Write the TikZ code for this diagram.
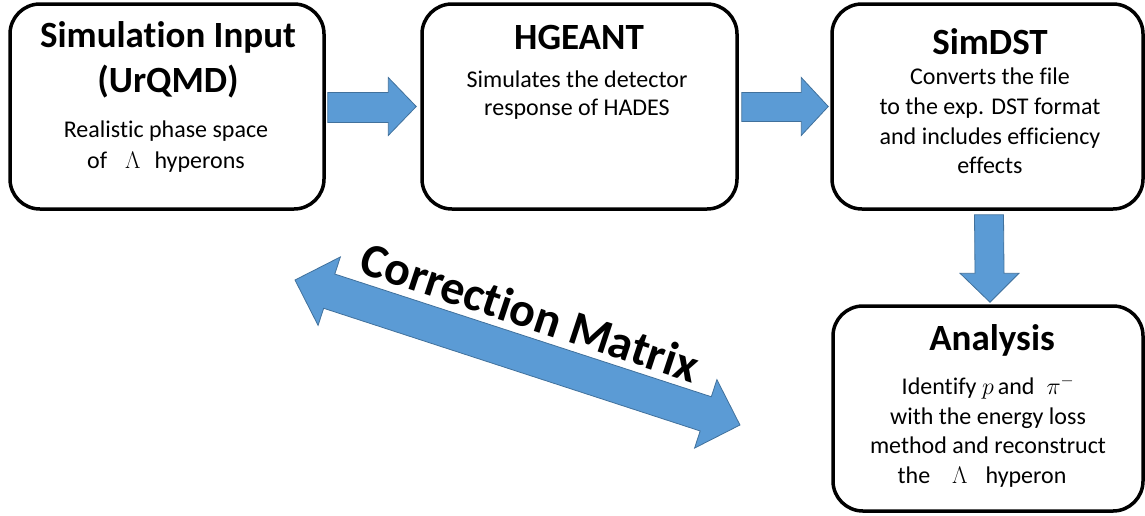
\RequirePackage{fix-cm}
\documentclass[tikz,border=0pt]{standalone}
\usepackage{fontspec}
\setmainfont{Carlito}[Ligatures=NoCommon]
\usetikzlibrary{calc}
\definecolor{arrowfill}{HTML}{5B9BD5}
\definecolor{arrowedge}{HTML}{41719C}
\tikzset{
  box/.style={draw=black, line width=3.5pt, rounded corners=30pt, fill=white, inner sep=0pt},
  ttl/.style={anchor=base, inner sep=0pt, font=\fontsize{37}{40}\selectfont\bfseries},
  bodytxt/.style={anchor=base, inner sep=0pt, font=\fontsize{24}{29}\selectfont},
  fat/.style={fill=arrowfill, draw=arrowedge, line width=0.8pt, line join=miter},
}
\begin{document}
\begin{tikzpicture}[x=1pt,y=-1pt]
\useasboundingbox (0,0) rectangle (1145,515);
% boxes
\node[box, minimum width=314pt, minimum height=205pt] (b1) at (167,106.5) {};
\node[box, minimum width=315pt, minimum height=205pt] (b2) at (579.5,106.5) {};
\node[box, minimum width=311pt, minimum height=205pt] (b3) at (987.5,106.5) {};
\node[box, minimum width=310pt, minimum height=205pt] (b4) at (988,408.5) {};
% texts box 1
\node[ttl] (t1a) at (168,47) {Simulation Input};
\node[ttl] (t1b) at (168,92) {(UrQMD)};
\node[bodytxt] (t1c) at (166,137) {Realistic phase space};
\node[bodytxt] (t1d) at (166,168) {of\hspace{18pt}$\Lambda$\hspace{14pt}hyperons};
% texts box 2
\node[ttl] (t2a) at (579,49) {HGEANT};
\node[bodytxt] (t2b) at (577,87) {Simulates the detector};
\node[bodytxt] (t2c) at (577,115) {response of HADES};
% texts box 3
\node[ttl] (t3a) at (990,54) {SimDST};
\node[bodytxt] (t3b) at (990,84) {Converts the file};
\node[bodytxt] (t3c) at (990,114) {to the exp. DST format};
\node[bodytxt] (t3d) at (990,144) {and includes efficiency};
\node[bodytxt] (t3e) at (990,173) {effects};
% texts box 4
\node[ttl] (t4a) at (992,350) {Analysis};
\node[bodytxt] (t4b) at (988,394) {Identify $p$\,and\hspace{12pt}$\pi^-$};
\node[bodytxt] (t4c) at (988,424) {with the energy loss};
\node[bodytxt] (t4d) at (988,453) {method and reconstruct};
\node[bodytxt] (t4e) at (982,483) {the\hspace{22pt}$\Lambda$\hspace{18pt}hyperon};
% arrow b1 -> b2
\draw[fat] ($(b1.east)+(2,-14)$) -- ($(b2.west)+(-32,-14)$) -- ($(b2.west)+(-32,-29)$)
  -- ($(b2.west)+(-4,0)$) -- ($(b2.west)+(-32,29)$) -- ($(b2.west)+(-32,16)$)
  -- ($(b1.east)+(2,16)$) -- cycle;
% arrow b2 -> b3
\draw[fat] ($(b2.east)+(3,-14)$) -- ($(b3.west)+(-29,-14)$) -- ($(b3.west)+(-29,-29)$)
  -- ($(b3.west)+(-2,0)$) -- ($(b3.west)+(-29,29)$) -- ($(b3.west)+(-29,15)$)
  -- ($(b2.east)+(3,15)$) -- cycle;
% arrow b3 -> b4
\draw[fat] ($(b3.south)+(-13,4)$) -- ($(b3.south)+(16,4)$) -- ($(b4.north)+(16,-31)$)
  -- ($(b4.north)+(31,-31)$) -- ($(b4.north)+(2,-2)$) -- ($(b4.north)+(-28,-31)$)
  -- ($(b4.north)+(-13,-31)$) -- cycle;
% correction matrix double arrow
\coordinate (cmL) at (295,280);
\coordinate (cmR) at (740,425);
\begin{scope}[shift={(cmL)}, rotate=-18.05]
\draw[fat] (0,0) -- (36,-36) -- (36,-18) -- (432,-18) -- (432,-36) -- (468,0)
  -- (432,36) -- (432,18) -- (36,18) -- (36,36) -- cycle;
\end{scope}
\node[inner sep=0pt, rotate=-18.3, font=\fontsize{48}{50}\selectfont\bfseries] (cmtext) at (530,312) {Correction Matrix};
\end{tikzpicture}
\end{document}
